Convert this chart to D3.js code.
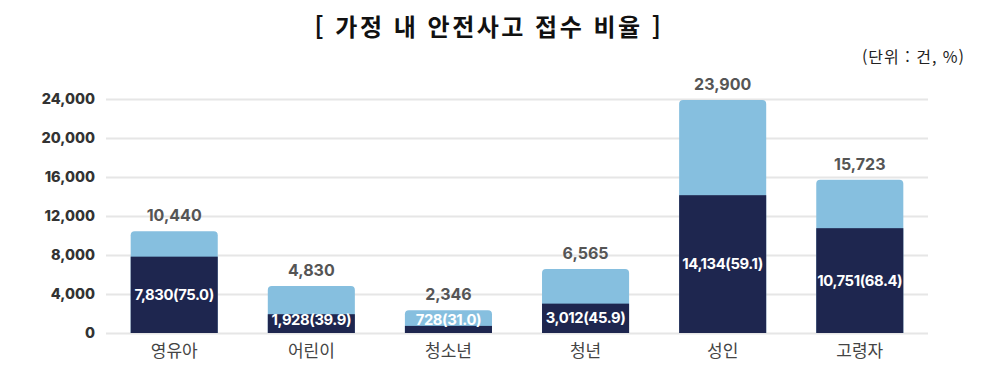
<!DOCTYPE html>
<html lang="ko">
<head>
  <meta charset="UTF-8">
  <title>가정 내 안전사고 접수 비율</title>
  <script src="https://cdnjs.cloudflare.com/ajax/libs/d3/7.8.5/d3.min.js"></script>
  <style>
    body { margin: 0; background: #fff; }
    text { font-family: "Noto Sans CJK KR", "Noto Sans", sans-serif; }
  </style>
</head>
<body>
  <script>
var categories = ["영유아", "어린이", "청소년", "청년", "성인", "고령자"];
var totals = [10440, 4830, 2346, 6565, 23900, 15723];
var homeCases = [7830, 1928, 728, 3012, 14134, 10751];
var homeRatio = ["75.0", "39.9", "31.0", "45.9", "59.1", "68.4"];
var yTicks = [0, 4000, 8000, 12000, 16000, 20000, 24000];

var width = 981, height = 379;
var margin = {top: 99, right: 53, bottom: 46, left: 106};

var lightBlue = "#86bfdf",
    navy = "#1e264f";
var numFont = "Inter, 'Open Sans', sans-serif";

var svg = d3.select("body").append("svg")
    .attr("width", width)
    .attr("height", height);

var x = d3.scaleBand()
    .domain(categories)
    .range([margin.left, width - margin.right])
    .paddingInner(0.365)
    .paddingOuter(0.18);

var y = d3.scaleLinear()
    .domain([0, 24000])
    .range([height - margin.bottom, margin.top]);

// title + unit
svg.append("text")
    .attr("x", 489).attr("y", 36)
    .attr("text-anchor", "middle")
    .style("font-size", "24px").style("font-weight", "bold")
    .style("letter-spacing", "2.5px")
    .style("fill", "#111")
    .text("[ 가정 내 안전사고 접수 비율 ]");

svg.append("text")
    .attr("x", 965).attr("y", 63)
    .attr("text-anchor", "end")
    .style("font-size", "16px")
    .style("letter-spacing", "1px")
    .style("fill", "#222")
    .text("(단위 : 건, %)");

// grid + y axis
var yAxis = d3.axisLeft(y)
    .tickValues(yTicks)
    .tickSize(-(width - margin.right - margin.left))
    .tickPadding(11)
    .tickFormat(d3.format(","));

var gy = svg.append("g")
    .attr("transform", "translate(" + margin.left + ",0)")
    .call(yAxis);
gy.select(".domain").remove();
gy.selectAll(".tick line").attr("stroke", "#e6e6e6").attr("stroke-width", 2);
gy.selectAll(".tick text")
    .style("font-family", numFont)
    .style("font-size", "14.5px").style("font-weight", "800")
    .style("fill", "#333");

// x axis labels
var gx = svg.append("g")
    .attr("transform", "translate(0," + (height - margin.bottom) + ")")
    .call(d3.axisBottom(x).tickSize(0).tickPadding(12));
gx.select(".domain").remove();
gx.selectAll(".tick text")
    .style("font-size", "17px")
    .style("fill", "#444");

var data = categories.map(function(c, i) {
  return {cat: c, total: totals[i], home: homeCases[i], ratio: homeRatio[i]};
});

var bars = svg.append("g").selectAll("g")
    .data(data)
  .enter().append("g");

// total (light) bar with rounded top
bars.append("path")
    .attr("fill", lightBlue)
    .attr("d", function(d) {
      var x0 = x(d.cat), w = x.bandwidth(), y0 = y(d.total), yb = y(0), r = 4;
      return "M" + x0 + "," + yb +
        "V" + (y0 + r) + "Q" + x0 + "," + y0 + " " + (x0 + r) + "," + y0 +
        "H" + (x0 + w - r) + "Q" + (x0 + w) + "," + y0 + " " + (x0 + w) + "," + (y0 + r) +
        "V" + yb + "Z";
    });

// home cases (dark) bar
bars.append("rect")
    .attr("fill", navy)
    .attr("x", function(d) { return x(d.cat); })
    .attr("width", x.bandwidth())
    .attr("y", function(d) { return y(d.home); })
    .attr("height", function(d) { return y(0) - y(d.home); });

// total labels
bars.append("text")
    .attr("x", function(d) { return x(d.cat) + x.bandwidth() / 2; })
    .attr("y", function(d) { return y(d.total) - 10; })
    .attr("text-anchor", "middle")
    .style("font-family", numFont)
    .style("font-size", "16px").style("font-weight", "bold")
    .style("fill", "#555")
    .text(function(d) { return d3.format(",")(d.total); });

// inside labels
bars.append("text")
    .attr("x", function(d) { return x(d.cat) + x.bandwidth() / 2; })
    .attr("y", function(d) {
      var mid = (y(d.home) + y(0)) / 2;
      return Math.min(mid, y(0) - 13) + 5;
    })
    .attr("text-anchor", "middle")
    .style("font-family", numFont)
    .style("font-size", "14.8px").style("font-weight", "bold")
    .style("letter-spacing", "-0.4px")
    .style("fill", "#fff")
    .text(function(d) { return d3.format(",")(d.home) + "(" + d.ratio + ")"; });
  </script>
</body>
</html>
